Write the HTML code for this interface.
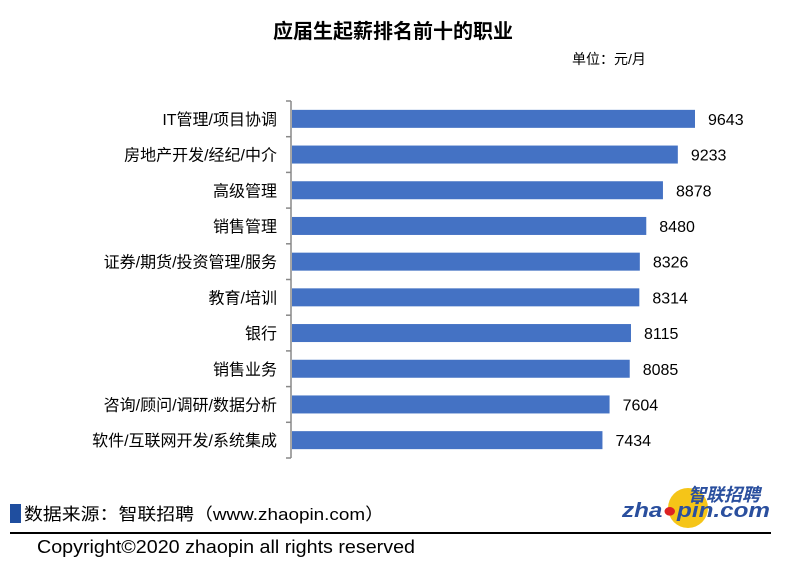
<!DOCTYPE html>
<html><head><meta charset="utf-8"><style>
body{margin:0;width:786px;height:574px;background:#fff;overflow:hidden;font-family:"Liberation Sans","Noto Sans CJK SC",sans-serif;}
</style></head><body>
<svg id="chart" width="786" height="574" xmlns="http://www.w3.org/2000/svg">
<text x="393" y="38" text-anchor="middle" font-size="20" font-weight="bold" fill="#000" font-family="Liberation Sans, Noto Sans CJK SC, sans-serif">应届生起薪排名前十的职业</text>
<text x="572" y="64" font-size="14" fill="#000" font-family="Liberation Sans, Noto Sans CJK SC, sans-serif">单位：元/月</text>
<g id="plot"></g>
<rect x="10" y="504" width="11" height="19" fill="#1f4e9f"/>
<text x="24" y="520" font-size="17" textLength="360" lengthAdjust="spacingAndGlyphs" fill="#000" font-family="Liberation Sans, Noto Sans CJK SC, sans-serif">数据来源：智联招聘（www.zhaopin.com）</text>
<g>
<circle cx="688" cy="508" r="20" fill="#f5c518"/>
<text x="724" y="501" text-anchor="middle" font-size="18" font-weight="bold" fill="#2a4f9e" font-style="italic" font-family="Liberation Sans, Noto Sans CJK SC, sans-serif">智联招聘</text>
<text x="622" y="517" textLength="148" lengthAdjust="spacingAndGlyphs" font-size="20" font-weight="bold" fill="#2a4f9e" font-style="italic" font-family="Liberation Sans, sans-serif">zha<tspan fill="#d22">●</tspan>pin.com</text>
</g>
<line x1="10" y1="533" x2="771" y2="533" stroke="#000" stroke-width="2"/>
<text x="37" y="553" font-size="18" textLength="378" lengthAdjust="spacingAndGlyphs" fill="#000" font-family="Liberation Sans, sans-serif">Copyright©2020 zhaopin all rights reserved</text>
</svg>
<script>
const categories=["IT管理/项目协调","房地产开发/经纪/中介","高级管理","销售管理","证券/期货/投资管理/服务","教育/培训","银行","销售业务","咨询/顾问/调研/数据分析","软件/互联网开发/系统集成"];
const values=[9643,9233,8878,8480,8326,8314,8115,8085,7604,7434];
(function(){
const NS="http://www.w3.org/2000/svg";
const g=document.getElementById('plot');
const x0=291, y0=101, step=35.7, maxV=9643, maxW=404;
const xs=v=>x0+v/maxV*maxW;
function mk(t,a){const e=document.createElementNS(NS,t);for(const k in a)e.setAttribute(k,a[k]);g.appendChild(e);return e;}
const ax=mk('line',{x1:x0,y1:y0,x2:x0,y2:y0+step*categories.length,stroke:'#888','stroke-width':1.5});


for(let i=0;i<=categories.length;i++){
 const t=mk('line',{x1:x0-5,y1:y0+i*step,x2:x0,y2:y0+i*step,stroke:'#888','stroke-width':1.5});
 
 
}
categories.forEach((c,i)=>{
 const cy=y0+step*(i+0.5);
 const b=mk('rect',{x:x0+1,y:cy-9,width:xs(values[i])-x0-1,height:18,fill:'#4472c4'});
 
 
 const l=mk('text',{x:x0-14,y:cy+6,'text-anchor':'end','font-size':16,fill:'#000','font-family':'Liberation Sans, Noto Sans CJK SC, sans-serif'});
 l.textContent=c;
 
 
 const v=mk('text',{x:xs(values[i])+13,y:cy+6,'font-size':16,fill:'#000','font-family':'Liberation Sans, sans-serif'});
 v.textContent=values[i];
 
 
});
})();
</script>
</body></html>
